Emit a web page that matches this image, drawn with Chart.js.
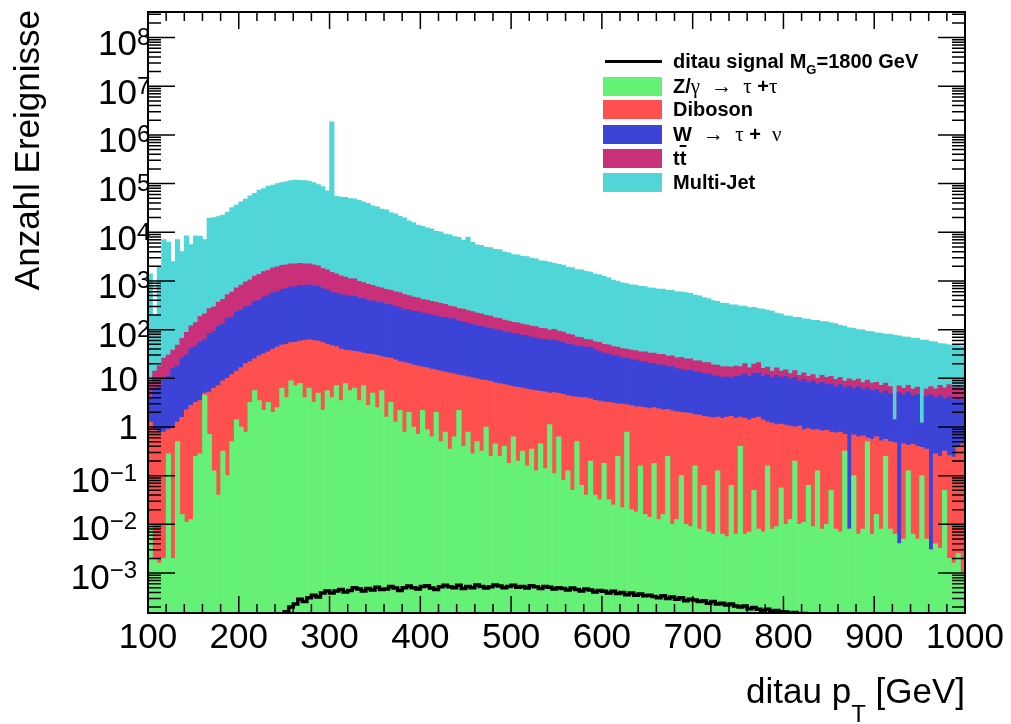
<!DOCTYPE html>
<html>
<head>
<meta charset="utf-8">
<title>ditau pT</title>
<script src="https://cdn.jsdelivr.net/npm/chart.js@4.4.1/dist/chart.umd.min.js"></script>
<style>
  html, body { margin: 0; padding: 0; background: #fff; }
  .wrap { position: relative; width: 1011px; height: 724px; }
  .legend { position: absolute; left: 0; top: 0; font: bold 20px "Liberation Sans", Arial, sans-serif; color: #000; }
  .legend .row { position: absolute; left: 603px; height: 19px; line-height: 19px; white-space: nowrap; }
  .legend .sw { position: absolute; left: 0; top: 0; width: 59px; height: 19px; }
  .legend .ln { position: absolute; left: 2px; top: 8px; width: 57px; height: 3px; background: #000; }
  .legend .txt { position: absolute; left: 70px; top: 0; }
  .legend .g { font-family: "Liberation Serif", "DejaVu Serif", serif; font-weight: normal; font-size: 21px; }
  .legend .sub { font-size: 13px; position: relative; top: 6px; }
  .legend .ol { text-decoration: overline; }
</style>
</head>
<body>
<div class="wrap">
  <canvas id="ptChart"></canvas>
  <div class="legend">
    <div class="row" style="top:52px"><div class="ln"></div><span class="txt">ditau signal M<span class="sub">G</span>=1800 GeV</span></div>
    <div class="row" style="top:77px"><div class="sw" style="background:#65F176"></div><span class="txt">Z/<span class="g">&gamma;</span>&nbsp; <span class="g">&rarr;</span>&nbsp; <span class="g">&tau;</span> +<span class="g">&tau;</span></span></div>
    <div class="row" style="top:100px"><div class="sw" style="background:#FE504E"></div><span class="txt">Diboson</span></div>
    <div class="row" style="top:125px"><div class="sw" style="background:#3C44D8"></div><span class="txt">W&nbsp; <span class="g">&rarr;</span>&nbsp; <span class="g">&tau;</span> + &nbsp;<span class="g">&nu;</span></span></div>
    <div class="row" style="top:149px"><div class="sw" style="background:#C8307A"></div><span class="txt">t<span class="ol">t</span></span></div>
    <div class="row" style="top:173px"><div class="sw" style="background:#50D6D6"></div><span class="txt">Multi-Jet</span></div>
  </div>
</div>
<script>
// ── Data (5 GeV bins, 100–1000 GeV), heights of the stacked tops ──
const BIN_START = 100;
const BIN_WIDTH = 5;

const multiJet = [
  1400, 200, 2000, 7100, 6300, 2500, 7100, 4000, 8500, 5600,
  8500, 8300, 7100, 19500, 20000, 21000, 22500, 26000, 32000, 36000,
  42000, 48000, 56000, 63000, 74000, 79000, 89000, 93000, 100000, 105000,
  110000, 115000, 118000, 117000, 115000, 112000, 105000, 95000, 87000, 71000,
  1850000, 55000, 53000, 52000, 49000, 48500, 45500, 42000, 39500, 35000,
  33500, 30000, 28800, 25500, 24000, 21200, 19800, 17200, 15800, 14000,
  13300, 12400, 11800, 10500, 10200, 9200, 9000, 8200, 7900, 6800,
  8000, 6200, 5500, 5400, 4900, 4850, 4450, 4400, 3950, 3800,
  3500, 3450, 3200, 3150, 2900, 2850, 2600, 2550, 2400, 2300,
  2200, 2120, 1920, 1880, 1720, 1700, 1580, 1520, 1380, 1340,
  1240, 1160, 1040, 1000, 910, 880, 830, 820, 780, 770,
  720, 715, 680, 680, 640, 640, 600, 600, 575, 555,
  515, 495, 455, 435, 395, 380, 350, 345, 325, 325,
  305, 305, 285, 288, 272, 265, 248, 240, 218, 210,
  192, 190, 178, 180, 167, 165, 155, 155, 147, 147,
  138, 133, 122, 118, 109, 107, 100, 99, 92, 91,
  86, 85, 80, 81, 77, 75, 71, 70, 66, 66,
  61, 61, 57, 56, 52, 51, 49, 48, 47, 46
];

const ttbar = [
  8.5, 14, 18, 26, 30, 38, 48, 66, 88, 120,
  140, 186, 210, 270, 295, 370, 420, 525, 590, 724,
  820, 955, 1060, 1260, 1370, 1550, 1650, 1860, 1950, 2100,
  2150, 2250, 2250, 2300, 2250, 2250, 2150, 2050, 1800, 1700,
  1500, 1400, 1280, 1200, 1120, 1100, 980, 930, 850, 810,
  760, 720, 670, 645, 600, 575, 525, 500, 465, 450,
  415, 405, 380, 370, 345, 330, 305, 295, 272, 265,
  245, 235, 220, 210, 196, 190, 175, 170, 158, 150,
  142, 138, 130, 126, 118, 115, 107, 105, 98, 102,
  93, 89, 81, 78, 70, 69, 63, 62, 56, 55,
  50, 49, 45, 44, 41, 40, 38, 37, 35, 35,
  33, 33, 31, 31, 28.5, 29, 26.5, 27, 25, 25,
  23, 23, 21, 21, 19, 18.6, 17.2, 17.4, 17, 17.8,
  17.4, 20, 16.5, 19.5, 21, 16, 17, 14, 16.5, 14,
  15, 12.5, 14.5, 11.5, 13, 11, 12, 10, 11.5, 10.5,
  11, 9.5, 10.5, 8.8, 9.8, 9.0, 9.6, 8.2, 9.2, 8.0,
  8.3, 7.2, 8.0, 6.8, 1.4, 7.0, 6.2, 7.2, 6.0, 6.6,
  1.2, 6.0, 6.8, 6.1, 7.2, 6.4, 7.4, 6.6, 7.0, 6.5
];

const wTauNu = [
  4.0, 6.3, 7.0, 10, 11, 16, 18, 26, 30, 42,
  45, 55, 62, 83, 92, 117, 130, 170, 180, 229,
  250, 295, 310, 380, 400, 468, 500, 575, 600, 676,
  700, 759, 760, 813, 800, 832, 790, 776, 700, 661,
  590, 562, 520, 513, 495, 490, 440, 437, 395, 389,
  360, 363, 335, 324, 300, 288, 262, 257, 238, 234,
  218, 214, 198, 195, 181, 178, 168, 166, 150, 145,
  134, 129, 119, 117, 108, 107, 99, 98, 90, 89,
  84, 83, 76, 76, 70, 69, 64, 63, 60, 62,
  57, 55, 50, 49, 45, 46, 43, 44, 39, 36,
  33, 32, 29, 29, 26.5, 26, 24, 24, 22, 22,
  20, 20.4, 19, 19, 17.4, 17.4, 15.6, 15.5, 14.3, 14.8,
  13.5, 13.5, 12.4, 12.3, 11.3, 11.2, 10.4, 10.7, 10.3, 11.0,
  11.2, 12.5, 11, 12.5, 13, 11, 12, 10.5, 11.5, 10.5,
  11, 9.8, 10.5, 8.8, 9.5, 8.2, 8.8, 7.6, 8.3, 7.4,
  7.6, 6.8, 7.4, 6.4, 7.0, 6.1, 6.8, 5.9, 6.4, 5.6,
  5.8, 5.0, 5.5, 4.8, 1.4, 5.1, 4.6, 5.2, 4.4, 4.7,
  1.2, 4.3, 4.6, 4.0, 4.4, 3.8, 4.2, 3.6, 3.8, 3.5
];

const diboson = [
  1.26, 0.89, 0.79, 0.79, 0.89, 1.0, 1.26, 1.58, 2.24, 2.8,
  3.2, 3.5, 5.0, 5.2, 6.3, 7.1, 8.9, 10, 12, 14,
  16.6, 20, 22, 25, 29, 32, 35, 40, 44, 48,
  50, 54, 55, 58, 60, 62, 60, 58, 54, 50,
  47, 45, 40, 38, 37, 36, 35, 33, 32, 31,
  29.5, 28, 27, 26, 24, 22, 21, 20, 18.6, 17.8,
  17, 16.6, 15.5, 14.8, 14.1, 13.5, 12.9, 12.3, 11.7, 11.2,
  10.7, 10.2, 9.8, 9.3, 9.1, 8.7, 8.1, 7.8, 7.4, 7.1,
  6.8, 6.5, 6.3, 6.0, 5.75, 5.6, 5.4, 5.25, 5.0, 5.1,
  4.9, 4.7, 4.4, 4.2, 4.1, 4.0, 4.0, 3.8, 3.55, 3.4,
  3.3, 3.2, 3.1, 3.0, 2.95, 2.9, 2.75, 2.6, 2.6, 2.5,
  2.4, 2.5, 2.35, 2.25, 2.3, 2.15, 2.05, 2.0, 1.95, 1.9,
  1.8, 1.75, 1.65, 1.6, 1.55, 1.6, 1.5, 1.6, 1.65, 1.5,
  1.6, 1.5, 1.4, 1.5, 1.6, 1.4, 1.26, 1.2, 1.12, 1.15,
  1.1, 1.05, 1.0, 1.05, 0.89, 0.93, 0.87, 0.89, 0.83, 0.85,
  0.79, 0.76, 0.79, 0.71, 0.008, 0.69, 0.63, 0.66, 0.6, 0.56,
  0.63, 0.52, 0.56, 0.5, 0.48, 0.004, 0.45, 0.42, 0.44, 0.4,
  0.38, 0.35, 0.003, 0.28, 0.25, 0.32, 0.26, 0.24, 0.4, 0.45
];

const zTauTau = [
  0.01, 0.002, 0.0016, 0.002, 0.28, 0.002, 0.5, 0.016, 0.011, 0.0126,
  0.25, 0.28, 4.5, 0.71, 0.126, 0.04, 0.32, 0.1, 0.5, 1.4,
  1.0, 0.79, 3.2, 5.6, 3.5, 2.2, 3.2, 2.0, 2.5, 6.3,
  4.0, 8.9, 7.1, 7.9, 4.0, 6.3, 3.2, 5.0, 2.2, 5.6,
  4.0, 7.1, 3.5, 7.9, 5.6, 6.3, 3.5, 7.1, 2.8, 5.0,
  2.5, 5.6, 1.6, 3.2, 1.26, 2.2, 0.79, 2.0, 1.0, 0.71,
  2.2, 0.89, 0.63, 2.0, 0.5, 0.79, 0.35, 0.63, 2.2, 0.4,
  0.79, 0.28, 0.5, 0.32, 1.0, 0.25, 0.45, 0.25, 0.4, 0.18,
  0.63, 0.2, 0.32, 0.16, 0.35, 0.126, 0.45, 0.14, 1.12, 0.11,
  0.63, 0.08, 0.126, 0.05, 0.5, 0.063, 0.04, 0.2, 0.04, 0.032,
  0.18, 0.032, 0.025, 0.25, 0.022, 0.79, 0.02, 0.018, 0.16, 0.016,
  0.014, 0.18, 0.0126, 0.016, 0.25, 0.01, 0.0126, 0.1, 0.01, 0.009,
  0.16, 0.008, 0.063, 0.007, 0.0063, 0.126, 0.0063, 0.0056, 0.063, 0.0063,
  0.4, 0.0063, 0.007, 0.05, 0.008, 0.007, 0.16, 0.008, 0.009, 0.056,
  0.01, 0.0126, 0.2, 0.01, 0.011, 0.063, 0.009, 0.126, 0.008, 0.01,
  0.05, 0.008, 0.007, 0.32, 0.008, 0.1, 0.0063, 0.008, 0.5, 0.0063,
  0.016, 0.008, 0.25, 0.008, 0.0063, 0.004, 0.005, 0.126, 0.0063, 0.005,
  0.1, 0.005, 0.003, 0.004, 0.0032, 0.05, 0.002, 0.0016, 0.0025, 0.001
];

const signal = [
  5e-5, 5e-5, 5e-5, 5e-5, 5e-5, 5e-5, 5e-5, 5e-5, 5e-5, 5e-5,
  5e-5, 5e-5, 5e-5, 5e-5, 5e-5, 5e-5, 5e-5, 5e-5, 5e-5, 5e-5,
  5e-5, 5e-5, 5e-5, 5e-5, 5e-5, 5e-5, 6e-5, 8e-5, 1.1e-4, 1.3e-4,
  1.6e-4, 2.0e-4, 2.3e-4, 2.9e-4, 2.6e-4, 3.1e-4, 3.5e-4, 3.2e-4, 3.9e-4, 4.3e-4,
  3.9e-4, 4.3e-4, 4.6e-4, 4.1e-4, 4.4e-4, 5.0e-4, 4.7e-4, 4.3e-4, 4.8e-4, 4.5e-4,
  5.1e-4, 4.6e-4, 4.7e-4, 5.3e-4, 4.9e-4, 4.4e-4, 5.0e-4, 5.4e-4, 5.0e-4, 4.7e-4,
  5.3e-4, 5.5e-4, 4.9e-4, 4.6e-4, 5.2e-4, 5.6e-4, 5.2e-4, 5.0e-4, 5.6e-4, 4.8e-4,
  5.3e-4, 5.0e-4, 5.7e-4, 5.3e-4, 4.9e-4, 5.2e-4, 5.7e-4, 5.4e-4, 5.0e-4, 5.3e-4,
  5.6e-4, 5.1e-4, 5.3e-4, 4.9e-4, 5.5e-4, 5.2e-4, 4.8e-4, 5.3e-4, 5.1e-4, 4.7e-4,
  5.0e-4, 4.8e-4, 4.5e-4, 4.9e-4, 4.6e-4, 4.3e-4, 4.7e-4, 4.5e-4, 4.1e-4, 4.4e-4,
  4.2e-4, 3.9e-4, 4.2e-4, 3.8e-4, 4.0e-4, 3.6e-4, 3.9e-4, 3.5e-4, 3.7e-4, 3.4e-4,
  3.5e-4, 3.3e-4, 3.1e-4, 3.4e-4, 3.0e-4, 3.2e-4, 2.9e-4, 3.1e-4, 2.7e-4, 2.9e-4,
  2.8e-4, 2.6e-4, 2.7e-4, 2.4e-4, 2.6e-4, 2.3e-4, 2.4e-4, 2.2e-4, 2.3e-4, 2.1e-4,
  2.0e-4, 2.1e-4, 1.85e-4, 1.95e-4, 1.8e-4, 1.7e-4, 1.8e-4, 1.65e-4, 1.7e-4, 1.6e-4,
  1.58e-4, 1.5e-4, 1.55e-4, 1.45e-4, 1.48e-4, 1.4e-4, 1.35e-4, 1.3e-4, 1.2e-4, 1.1e-4,
  1.0e-4, 9e-5, 8e-5, 7e-5, 6e-5, 5e-5, 5e-5, 5e-5, 5e-5, 5e-5,
  5e-5, 5e-5, 5e-5, 5e-5, 5e-5, 5e-5, 5e-5, 5e-5, 5e-5, 5e-5,
  5e-5, 5e-5, 5e-5, 5e-5, 5e-5, 5e-5, 5e-5, 5e-5, 5e-5, 5e-5
];

const xTickValues = [100, 200, 300, 400, 500, 600, 700, 800, 900, 1000];
const yTickValues = [1e8, 1e7, 1e6, 1e5, 1e4, 1e3, 1e2, 10, 1, 0.1, 0.01, 0.001];
const yTickLabels = [
  ['10', '8'], ['10', '7'], ['10', '6'], ['10', '5'], ['10', '4'], ['10', '3'], ['10', '2'],
  ['10', ''], ['1', ''], ['10', '\u22121'], ['10', '\u22122'], ['10', '\u22123']
];

const Y_MIN = 1.51e-4;
const Y_MAX = 3.35e8;
const FONT = '"Liberation Sans", Arial, sans-serif';

// ── Helpers ───────────────────────────────────────────────
const binCenters = multiJet.map((_, i) => BIN_START + BIN_WIDTH * i + BIN_WIDTH / 2);
const toXY = arr => arr.map((v, i) => ({ x: binCenters[i], y: v }));

function barSet(label, data, color) {
  return {
    type: 'bar',
    label,
    data: toXY(data),
    backgroundColor: color,
    borderWidth: 0,
    grouped: false,
    barPercentage: 1,
    categoryPercentage: 1
  };
}

// ── ROOT-style frame, ticks and labels ────────────────────
const rootFrame = {
  id: 'rootFrame',
  afterDatasetsDraw(chart) {
    const { ctx, chartArea: a, scales: { x, y } } = chart;
    ctx.save();
    ctx.strokeStyle = '#000';
    ctx.lineWidth = 1.5;
    ctx.beginPath();

    // x ticks, bottom and top, every 20 GeV
    for (let v = 100; v <= 1000; v += 20) {
      const px = x.getPixelForValue(v);
      const len = v % 100 === 0 ? 17 : 9;
      ctx.moveTo(px, a.bottom); ctx.lineTo(px, a.bottom - len);
      ctx.moveTo(px, a.top); ctx.lineTo(px, a.top + len);
    }

    // y ticks, left and right, decades plus 2..9
    for (let e = -4; e <= 8; e++) {
      for (let k = 1; k <= 9; k++) {
        const v = k * Math.pow(10, e);
        if (v < y.min || v > y.max) continue;
        const py = y.getPixelForValue(v);
        const len = k === 1 ? 27 : 13;
        ctx.moveTo(a.left, py); ctx.lineTo(a.left + len, py);
        ctx.moveTo(a.right, py); ctx.lineTo(a.right - len, py);
      }
    }
    ctx.stroke();

    ctx.lineWidth = 2;
    ctx.strokeRect(a.left, a.top, a.right - a.left, a.bottom - a.top);

    // tick labels
    ctx.fillStyle = '#000';
    ctx.textBaseline = 'alphabetic';
    ctx.font = '35px ' + FONT;
    ctx.textAlign = 'center';
    xTickValues.forEach(v => ctx.fillText(String(v), x.getPixelForValue(v), 648));

    yTickValues.forEach((v, i) => {
      const [base, exp] = yTickLabels[i];
      const py = y.getPixelForValue(v);
      if (!exp) {
        ctx.font = '35px ' + FONT;
        ctx.textAlign = 'right';
        ctx.fillText(base, 138, py + 12.5);
        return;
      }
      ctx.font = '24px ' + FONT;
      const ew = ctx.measureText(exp).width;
      const neg = exp.charAt(0) === '\u2212';
      const baseRight = neg ? 137 - ew : 137;
      ctx.textAlign = 'left';
      ctx.fillText(exp, baseRight, py + (neg ? 5 : 7.5));
      ctx.font = '35px ' + FONT;
      ctx.textAlign = 'right';
      ctx.fillText(base, baseRight, py + (neg ? 16 : 17.5));
    });

    // axis titles
    ctx.font = '35px ' + FONT;
    ctx.textAlign = 'left';
    const t1 = 'ditau p', t2 = ' [GeV]';
    const w1 = ctx.measureText(t1).width;
    const w2 = ctx.measureText(t2).width;
    ctx.font = '24px ' + FONT;
    const wT = ctx.measureText('T').width;
    const x0 = a.right - (w1 + wT + w2);
    ctx.fillText('T', x0 + w1, 722);
    ctx.font = '35px ' + FONT;
    ctx.fillText(t1, x0, 703);
    ctx.fillText(t2, x0 + w1 + wT, 703);

    ctx.translate(39, 10);
    ctx.rotate(-Math.PI / 2);
    ctx.textAlign = 'right';
    ctx.fillText('Anzahl Ereignisse', 0, 0);
    ctx.restore();
  }
};

// ── Chart ─────────────────────────────────────────────────
function renderChart() {
  const ctx = document.getElementById('ptChart').getContext('2d');
  new Chart(ctx, {
    type: 'bar',
    data: {
      datasets: [
        {
          type: 'line',
          label: 'ditau signal M_G=1800 GeV',
          data: toXY(signal),
          borderColor: '#000',
          borderWidth: 3.5,
          pointRadius: 0,
          stepped: 'middle',
          fill: false,
          clip: 0
        },
        barSet('Z/\u03b3 \u2192 \u03c4\u03c4', zTauTau, '#65F176'),
        barSet('Diboson', diboson, '#FE504E'),
        barSet('W \u2192 \u03c4\u03bd', wTauNu, '#3C44D8'),
        barSet('tt\u0304', ttbar, '#C8307A'),
        barSet('Multi-Jet', multiJet, '#50D6D6')
      ]
    },
    options: {
      responsive: true,
      maintainAspectRatio: false,
      animation: false,
      events: [],
      layout: { padding: { left: 148, right: 46, top: 12, bottom: 111 } },
      plugins: {
        legend: { display: false },
        tooltip: { enabled: false }
      },
      scales: {
        x: {
          type: 'linear',
          min: 100,
          max: 1000,
          offset: false,
          display: false
        },
        y: {
          type: 'logarithmic',
          min: Y_MIN,
          max: Y_MAX,
          display: false
        }
      }
    },
    plugins: [rootFrame]
  });
}

// ── Init ──────────────────────────────────────────────────
renderChart();
</script>
</body>
</html>
